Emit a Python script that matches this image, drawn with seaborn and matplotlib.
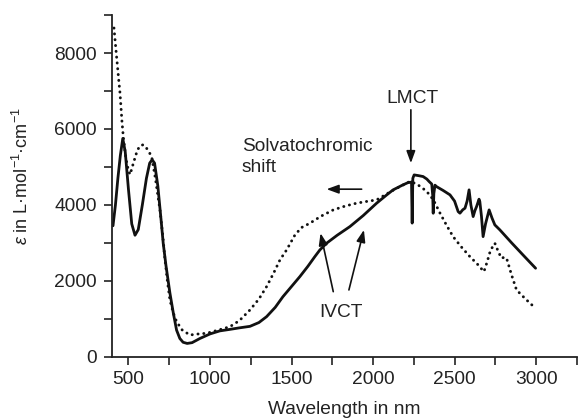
import numpy as np
import pandas as pd
import matplotlib
matplotlib.use("Agg")
import matplotlib.pyplot as plt
from matplotlib.ticker import MultipleLocator
import seaborn as sns

# ---- data ----
solid_x = [405, 420, 435, 450, 465, 480, 500, 520, 540, 560, 585, 610, 630, 645, 660,
           680, 700, 713, 730, 754, 775, 795, 815, 835, 860, 890, 938, 1000, 1060, 1122,
           1180, 1245, 1300, 1347, 1400, 1447, 1500, 1551, 1600, 1643, 1674, 1715, 1780,
           1858, 1940, 2022, 2080, 2123, 2144, 2180, 2215, 2236, 2240, 2244, 2252, 2280,
           2307, 2330, 2344, 2360, 2366, 2369, 2373, 2380, 2390, 2430, 2472, 2500, 2522,
           2533, 2550, 2564, 2577, 2589, 2600, 2614, 2625, 2635, 2650, 2655, 2665, 2675,
           2690, 2712, 2730, 2747, 2778, 2850, 2920, 2997]
solid_y = [3450, 4000, 4700, 5300, 5750, 5400, 4400, 3500, 3200, 3350, 4000, 4700, 5100,
           5190, 5100, 4500, 3600, 2990, 2400, 1680, 1150, 700, 480, 380, 350, 370, 480,
           600, 680, 720, 760, 800, 900, 1055, 1300, 1580, 1850, 2110, 2380, 2637, 2814,
           2990, 3200, 3428, 3720, 4045, 4250, 4396, 4441, 4520, 4588, 4600, 3520, 4700,
           4790, 4770, 4747, 4680, 4615, 4550, 4250, 3780, 4300, 4520, 4480, 4380, 4264,
           4100, 3824, 3781, 3870, 3913, 4100, 4396, 4000, 3692, 3850, 3956, 4150, 4087,
           3700, 3164, 3500, 3868, 3650, 3473, 3341, 3000, 2680, 2331]

dotted_x = [411, 425, 440, 448, 460, 468, 485, 500, 510, 530, 555, 575, 591, 610, 625,
            642, 665, 693, 710, 724, 740, 754, 775, 795, 830, 877, 930, 979, 1050, 1122,
            1180, 1245, 1300, 1347, 1390, 1429, 1470, 1520, 1560, 1613, 1680, 1756, 1830,
            1899, 1960, 2022, 2100, 2165, 2226, 2267, 2310, 2349, 2380, 2411, 2450, 2491,
            2540, 2594, 2640, 2680, 2700, 2720, 2747, 2770, 2788, 2805, 2819, 2850, 2880,
            2921, 2960, 2997]
dotted_y = [8660, 8000, 7300, 6946, 6200, 5801, 5200, 4900, 4800, 5100, 5450, 5570, 5583,
            5500, 5400, 5274, 4700, 3868, 3200, 2550, 1950, 1495, 1150, 923, 700, 572, 600,
            617, 700, 791, 950, 1231, 1520, 1846, 2200, 2550, 2814, 3200, 3400, 3518, 3700,
            3868, 3970, 4045, 4090, 4132, 4330, 4483, 4615, 4554, 4420, 4264, 4050, 3781,
            3470, 3164, 2900, 2637, 2440, 2241, 2500, 2800, 2990, 2750, 2595, 2620, 2595,
            2150, 1759, 1582, 1420, 1276]

x_ticks = [500, 1000, 1500, 2000, 2500, 3000]
y_ticks = [0, 2000, 4000, 6000, 8000]

# ---- style ----
sns.set_style("ticks")
plt.rcParams["font.family"] = ["Liberation Sans", "DejaVu Sans"]
plt.rcParams["mathtext.fontset"] = "custom"
plt.rcParams["mathtext.rm"] = "Liberation Sans"
plt.rcParams["mathtext.it"] = "Liberation Sans:italic"
FS = 13.8
TXT = "#222222"

fig = plt.figure(figsize=(5.78, 4.2), dpi=100)
ax = fig.add_axes([0.1938, 0.1507, 0.8042, 0.8133])

df_s = pd.DataFrame({"x": solid_x, "y": solid_y})
df_d = pd.DataFrame({"x": dotted_x, "y": dotted_y})
sns.lineplot(data=df_d, x="x", y="y", ax=ax, color="#111111", lw=2.1,
             linestyle=(0, (0.05, 1.95)), sort=False, estimator=None,
             dash_capstyle="round")
sns.lineplot(data=df_s, x="x", y="y", ax=ax, color="#111111", lw=2.0,
             sort=False, estimator=None)

ax.set_xlim(399, 3250)
ax.set_ylim(0, 9000)
ax.set_xticks(x_ticks)
ax.set_yticks(y_ticks)
ax.xaxis.set_minor_locator(MultipleLocator(250))
ax.yaxis.set_minor_locator(MultipleLocator(1000))
ax.tick_params(which="both", direction="out", length=6, width=1.2, color="#222222",
               labelsize=FS, labelcolor=TXT)
ax.tick_params(axis="y", pad=5)
ax.tick_params(axis="x", pad=4)
for s in ["top", "right"]:
    ax.spines[s].set_visible(False)
for s in ["left", "bottom"]:
    ax.spines[s].set_linewidth(1.3)
    ax.spines[s].set_color("#222222")

ax.set_xlabel("Wavelength in nm", fontsize=FS, color=TXT, labelpad=9.5)
ax.set_ylabel("$\\varepsilon$ in L\u00b7mol$^{-1}$\u00b7cm$^{-1}$", fontsize=13,
              color=TXT, va="center")
ax.yaxis.set_label_coords(-0.1947, 0.529)

# annotations
ax.text(2245, 6800, "LMCT", fontsize=FS, color=TXT, ha="center", va="center")
ax.text(1194, 5253, "Solvatochromic\nshift", fontsize=FS, color=TXT, ha="left",
        va="center", linespacing=1.3)
ax.text(1802, 1171, "IVCT", fontsize=FS, color=TXT, ha="center", va="center")

ap = dict(arrowstyle="-|>,head_length=0.6,head_width=0.22", mutation_scale=12,
          lw=1.2, color="#111111", shrinkA=0, shrinkB=0)
ax.annotate("", xy=(2232, 5100), xytext=(2232, 6505), arrowprops=ap)
ax.annotate("", xy=(1715, 4414), xytext=(1930, 4414), arrowprops=ap)
ax.annotate("", xy=(1678, 3254), xytext=(1756, 1714), arrowprops=ap)
ax.annotate("", xy=(1944, 3341), xytext=(1852, 1759), arrowprops=ap)

fig.savefig("out.png", dpi=100)
